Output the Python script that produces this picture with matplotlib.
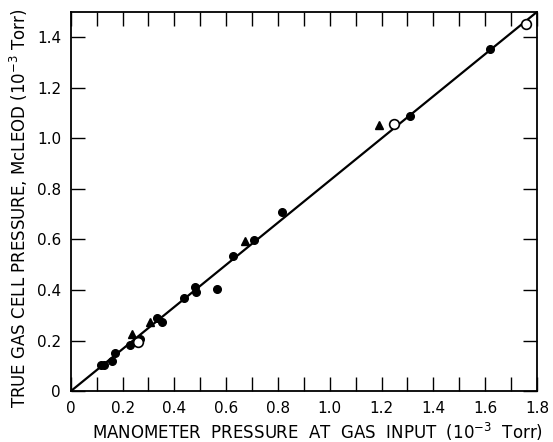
# McLeod vs manometer pressure calibration plot
import matplotlib
matplotlib.use('Agg')
import matplotlib.pyplot as plt
from matplotlib.ticker import MultipleLocator, FuncFormatter

# filled circles
filled_x = [0.115, 0.127, 0.16, 0.171, 0.228, 0.266, 0.333, 0.352, 0.437, 0.48,
            0.485, 0.564, 0.625, 0.709, 0.816, 1.31, 1.62]
filled_y = [0.104, 0.104, 0.121, 0.150, 0.182, 0.206, 0.29, 0.273, 0.368, 0.414,
            0.392, 0.406, 0.533, 0.596, 0.710, 1.089, 1.355]
# triangles
tri_x = [0.237, 0.305, 0.671, 1.19]
tri_y = [0.227, 0.272, 0.592, 1.053]
# open circles
open_x = [0.26, 1.247, 1.757]
open_y = [0.196, 1.056, 1.454]
# fitted line
line_x = [0.0, 1.8]
line_y = [0.0, 1.5]


def main():
    fig = plt.figure(figsize=(5.53, 4.42), dpi=100)
    ax = fig.add_axes([0.128, 0.115, 0.843, 0.858])

    ax.plot(line_x, line_y, color='black', lw=1.6, zorder=2)
    ax.plot(filled_x, filled_y, 'o', color='black', ms=5.5, zorder=3)
    ax.plot(tri_x, tri_y, '^', color='black', ms=6, zorder=3)
    ax.plot(open_x, open_y, 'o', mfc='white', mec='black', mew=1.2, ms=7, zorder=4)

    ax.set_xlim(0, 1.8)
    ax.set_ylim(0, 1.5)
    ax.xaxis.set_major_locator(MultipleLocator(0.2))
    ax.xaxis.set_minor_locator(MultipleLocator(0.1))
    ax.yaxis.set_major_locator(MultipleLocator(0.2))
    fmt = FuncFormatter(lambda v, p: '0' if abs(v) < 1e-9 else '%.1f' % v)
    ax.xaxis.set_major_formatter(fmt)
    ax.yaxis.set_major_formatter(fmt)
    ax.tick_params(which='both', direction='in', top=True, right=True,
                   length=10, width=1, labelsize=11, pad=7)

    for s in ax.spines.values():
        s.set_linewidth(1.3)

    ax.set_xlabel('MANOMETER  PRESSURE  AT  GAS  INPUT  (10$^{-3}$  Torr)',
                  fontsize=12)
    ax.set_ylabel('TRUE GAS CELL PRESSURE, McLEOD (10$^{-3}$ Torr)',
                  fontsize=12)
    ax.xaxis.set_label_coords(0.53, -0.078)
    ax.yaxis.set_label_coords(-0.088, 0.483)

    fig.savefig('out.png', dpi=100)


if __name__ == "__main__":
    main()
